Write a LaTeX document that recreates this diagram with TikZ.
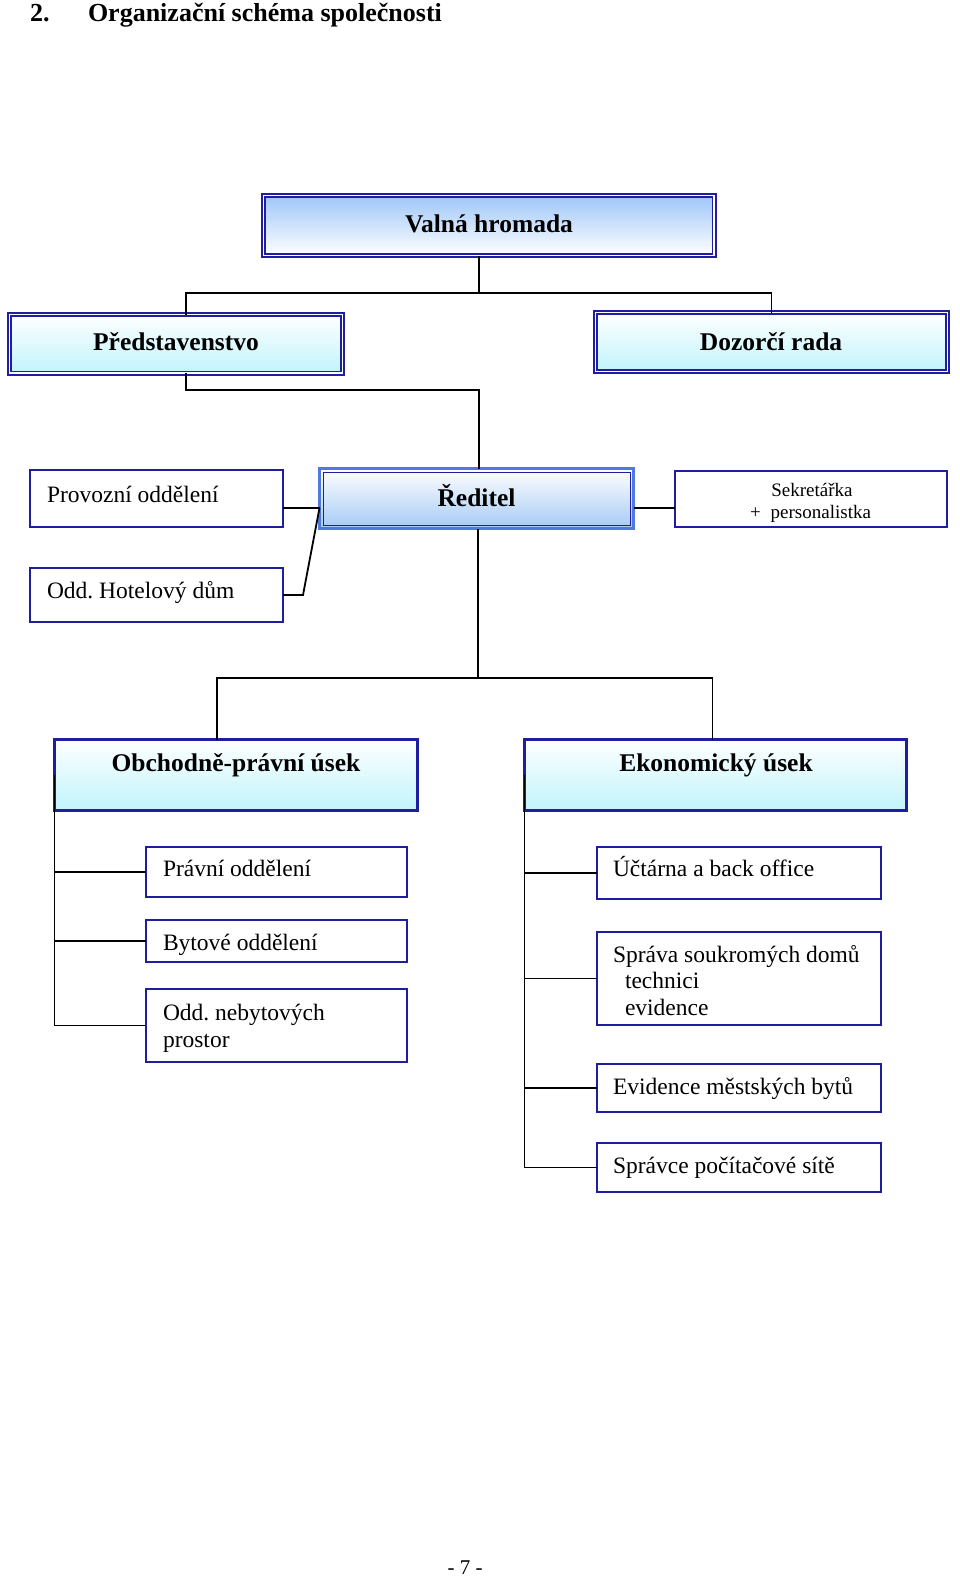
\documentclass[tikz,border=0pt]{standalone}
\usepackage{fontspec}
\setmainfont{Liberation Serif}
\frenchspacing
\definecolor{nb}{RGB}{30,30,158}
\definecolor{lb}{RGB}{80,120,225}
\definecolor{vtop}{RGB}{158,198,248}
\definecolor{cyb}{RGB}{192,244,252}
\definecolor{rbot}{RGB}{165,202,245}
\tikzset{
 dbox/.style={draw=nb, line width=1.6pt, double=white, double distance=1.8pt, inner sep=0, outer sep=0, anchor=north west},
 mbox/.style={draw=nb, line width=3pt, inner sep=0, outer sep=0, anchor=north west, top color=white, bottom color=cyb},
 sbox/.style={draw=nb, line width=2pt, inner sep=0, outer sep=0, anchor=north west, fill=white},
 conn/.style={draw=black, line width=1.8pt},
 ttl/.style={inner sep=0, outer sep=0, anchor=base, font=\fontsize{25.5}{30}\selectfont\bfseries},
 txt/.style={inner sep=0, outer sep=0, anchor=base west, font=\fontsize{23.5}{27}\selectfont},
 stxt/.style={inner sep=0, outer sep=0, font=\fontsize{19}{22}\selectfont},
 hdr/.style={inner sep=0, outer sep=0, anchor=base west, font=\fontsize{26}{30}\selectfont\bfseries},
}
\begin{document}
\begin{tikzpicture}[x=1pt, y=-1pt]
\useasboundingbox[fill=white] (0,0) rectangle (960,1576);
% header
\node[hdr] (h1) at (30,22) {2.};
\node[hdr] (h2) at (88,22) {Organizační schéma společnosti};
% boxes
\node[dbox, top color=vtop, bottom color=white, minimum width=450.5pt, minimum height=60pt] (vh) at (263.5,195.5) {};
\node[dbox, top color=white, bottom color=cyb, minimum width=333pt, minimum height=58.5pt] (pred) at (9.5,314.5) {};
\node[dbox, top color=white, bottom color=cyb, minimum width=352pt, minimum height=59pt] (doz) at (595.5,312.5) {};
\node[draw=lb, line width=3pt, inner sep=0, outer sep=0, anchor=north west, top color=white, bottom color=rbot, minimum width=314pt, minimum height=60pt] (red) at (319.5,468.5) {};
\draw[nb, line width=1pt] ([shift={(3.5pt,-3.5pt)}]red.north west) rectangle ([shift={(-3.5pt,3.5pt)}]red.south east);
\node[sbox, minimum width=253pt, minimum height=57pt] (prov) at (30,470) {};
\node[sbox, minimum width=253pt, minimum height=54pt] (hot) at (30,568) {};
\node[sbox, minimum width=272pt, minimum height=56pt] (sek) at (675,471) {};
\node[mbox, minimum width=363pt, minimum height=71pt] (obch) at (54.5,739.5) {};
\node[mbox, minimum width=382pt, minimum height=71pt] (eko) at (524.5,739.5) {};
\node[sbox, minimum width=261pt, minimum height=50pt] (prav) at (146,847) {};
\node[sbox, minimum width=261pt, minimum height=42pt] (byt) at (146,920) {};
\node[sbox, minimum width=261pt, minimum height=73pt] (neb) at (146,989) {};
\node[sbox, minimum width=284pt, minimum height=52pt] (uct) at (597,847) {};
\node[sbox, minimum width=284pt, minimum height=93pt] (spr) at (597,932) {};
\node[sbox, minimum width=284pt, minimum height=48pt] (evi) at (597,1064) {};
\node[sbox, minimum width=284pt, minimum height=49pt] (pc) at (597,1143) {};
% texts
\node[ttl] (vhT) at (489,232) {Valná hromada};
\node[ttl] (predT) at (176,350) {Představenstvo};
\node[ttl] (dozT) at (771,350) {Dozorčí rada};
\node[ttl] (redT) at (476.5,506) {Ředitel};
\node[ttl] (obchT) at (236,771) {Obchodně-právní úsek};
\node[ttl] (ekoT) at (716,771) {Ekonomický úsek};
\node[txt] (provT) at (47,502) {Provozní oddělení};
\node[txt] (hotT) at (47,598) {Odd. Hotelový dům};
\node[stxt, anchor=base] (sekT1) at (812,496) {Sekretářka};
\node[stxt, anchor=base west] (sekT2) at (750,518) {+\hspace{10pt}personalistka};
\node[txt] (pravT) at (163,876) {Právní oddělení};
\node[txt] (bytT) at (163,950) {Bytové oddělení};
\node[txt] (nebT1) at (163,1020) {Odd. nebytových};
\node[txt] (nebT2) at (163,1047) {prostor};
\node[txt] (uctT) at (613,876) {Účtárna a back office};
\node[txt] (sprT1) at (613,962) {Správa soukromých domů};
\node[txt] (sprT2) at (625,988) {technici};
\node[txt] (sprT3) at (625,1015) {evidence};
\node[txt] (eviT) at (613,1094) {Evidence městských bytů};
\node[txt] (pcT) at (613,1173) {Správce počítačové sítě};
\node[inner sep=0, anchor=base, font=\fontsize{21}{24}\selectfont] (pg) at (465,1574) {- 7 -};
% connectors
\coordinate (j1) at (479,293);
\coordinate (j2) at (479,390);
\coordinate (j3) at (478,678);
\draw[conn] (j1 |- vh.south) -- (j1);
\draw[conn] ([xshift=10pt]pred.north) |- (j1) -| (doz.north);
\draw[conn] ([xshift=10pt]pred.south) |- (j2) -- (j2 |- red.north);
\draw[conn] (red.south -| j3) -- (j3);
\draw[conn] ([xshift=-19pt]obch.north) |- (j3) -| ([xshift=-3pt]eko.north);
\draw[conn] ([yshift=-9.5pt]prov.east) -- ([yshift=-9.5pt]prov.east -| red.west);
\draw[conn] (hot.east) -- ++(20,0) -- ([yshift=-9.5pt]red.west);
\draw[conn] ([yshift=-9.5pt]red.east) -- ([yshift=-9.5pt]red.east -| sek.west);
\draw[conn] (obch.west) -- (obch.west |- neb.west) -- (neb.west);
\draw[conn] (obch.west |- prav.west) -- (prav.west);
\draw[conn] (obch.west |- byt.west) -- (byt.west);
\draw[conn] (eko.west) -- (eko.west |- pc.west) -- (pc.west);
\draw[conn] (eko.west |- uct.west) -- (uct.west);
\draw[conn] (eko.west |- spr.west) -- (spr.west);
\draw[conn] (eko.west |- evi.west) -- (evi.west);
\end{tikzpicture}
\end{document}
